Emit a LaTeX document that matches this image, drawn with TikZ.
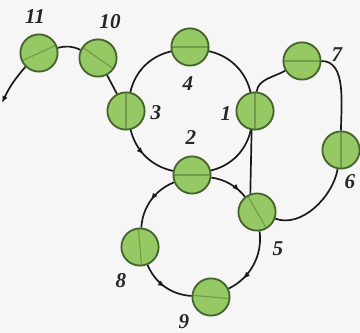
\documentclass[tikz,border=0pt]{standalone}
\usepackage{fontspec}
\setmainfont{Liberation Serif}
\usetikzlibrary{arrows.meta,decorations.markings}

\definecolor{ballfill}{RGB}{150,200,100}
\definecolor{balldraw}{RGB}{70,100,45}
\definecolor{paper}{RGB}{246,246,246}

\begin{document}
\begin{tikzpicture}[x=0.025cm,y=-0.025cm,
    ball/.style={circle,draw=balldraw,line width=1.3pt,fill=ballfill,minimum size=0.93cm,inner sep=0pt,
        path picture={\draw[ballfill!55!balldraw,line width=0.8pt] (path picture bounding box.center) ++(#1:0.5cm) -- ++(#1+180:1cm);}},
    ball/.default=90,
    num/.style={font=\fontsize{15}{15}\selectfont\bfseries\itshape,text=black!85},
    link/.style={line width=1.2pt,black!90},
    midarrow/.style={postaction={decorate},decoration={markings,mark=at position #1 with {\arrow{Latex[length=5pt,width=4pt]}}}},
    midarrow/.default=0.5
]

% === Frame ===
\fill[paper] (0,0) rectangle (360,333);
\useasboundingbox (0,0) rectangle (360,333);

% === Balls ===
\node[ball=25] (n11) at (39,53) {};
\node[ball=-35] (n10) at (98,58) {};
\node[ball=90] (n3) at (126,111) {};
\node[ball=0] (n4) at (190,47) {};
\node[ball=90] (n1) at (255,111) {};
\node[ball=0] (n7) at (302,61) {};
\node[ball=90] (n6) at (341,150) {};
\node[ball=0] (n2) at (192,175) {};
\node[ball=-60] (n5) at (257,212) {};
\node[ball=95] (n8) at (140,247) {};
\node[ball=-5] (n9) at (211,297) {};
\coordinate (tail) at (2,103);

% === Numbers ===
\node[num] (l11) at (35,17) {11};
\node[num] (l10) at (110,22) {10};
\node[num] (l3) at (156,113) {3};
\node[num] (l4) at (188,84) {4};
\node[num] (l1) at (226,114) {1};
\node[num] (l2) at (191,138) {2};
\node[num] (l7) at (337,55) {7};
\node[num] (l6) at (350,182) {6};
\node[num] (l5) at (278,249) {5};
\node[num] (l8) at (121,281) {8};
\node[num] (l9) at (184,322) {9};

% === Top loop ===
\draw[link] (n3) to[bend left=32,looseness=0.95] (n4);
\draw[link] (n4) to[bend left=32,looseness=0.95] (n1);
\draw[link] (n1) to[bend left=32,looseness=0.95] (n2);
\draw[link,midarrow=0.45] (n3) to[bend right=32,looseness=0.95] (n2);

% === Bottom loop ===
\draw[link,midarrow=0.8] (n2) to[bend left=22,looseness=0.9] (n5);
\draw[link,midarrow=0.5] (n2) to[bend right=32,looseness=0.95] (n8);
\draw[link,midarrow=0.5] (n8) to[bend right=32,looseness=0.95] (n9);
\draw[link,midarrow=0.75] (n5) to[bend left=36,looseness=0.95] (n9);

% === Right loop ===
\draw[link] (n1) to[out=85,in=210,looseness=0.9] (n7);
\draw[link] (n7) to[out=0,in=90,looseness=0.9] (n6);
\draw[link] (n6) to[out=-100,in=-20,looseness=0.9] (n5);
\draw[link] (n1.260) -- (n5.110);

% === Tail ===
\draw[link] (n11) to[bend left=20] (n10);
\draw[link] (n10) -- (n3);
\draw[link,-{Latex[length=5pt,width=4pt]}] (n11) to[bend right=8] (tail);

\end{tikzpicture}
\end{document}
